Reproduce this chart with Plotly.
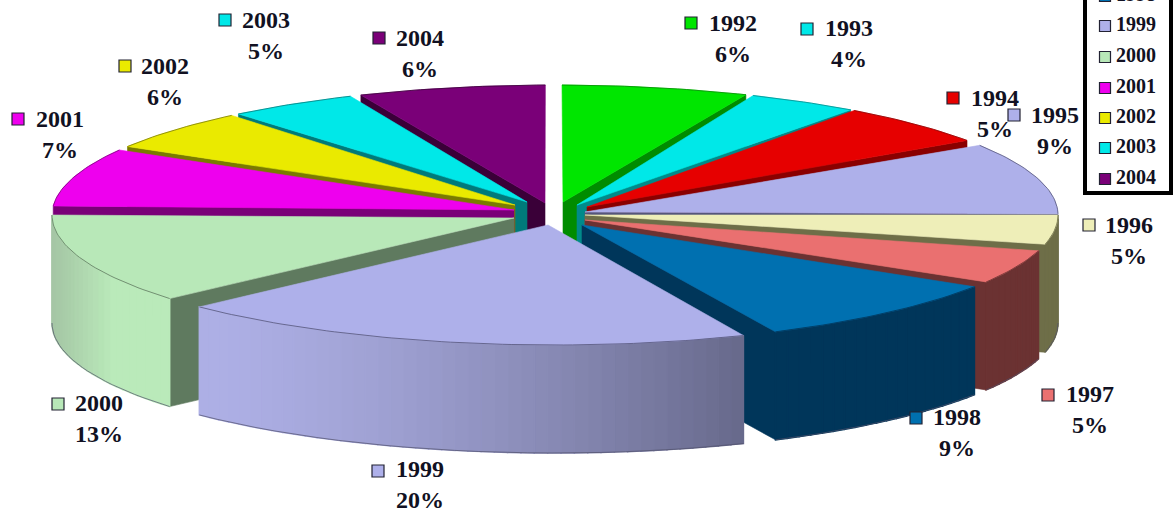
import math
import plotly.graph_objects as go

years = [1992, 1993, 1994, 1995, 1996, 1997, 1998, 1999, 2000, 2001, 2002, 2003, 2004]
shares = [6, 4, 5, 9, 5, 5, 9, 20, 13, 7, 6, 5, 6]
legend_years = [1998, 1999, 2000, 2001, 2002, 2003, 2004]

top_colors = ["#00e600", "#00e8e8", "#e60000", "#aeb0ea", "#eeeeb8", "#ea7070", "#0070b0",
              "#aeb0ea", "#b8e8b8", "#ee00ee", "#eaea00", "#00e8e8", "#7a0078"]
cut_colors = ["#008c00", "#008a8a", "#8a0000", "#55567a", "#6e6e48", "#6b3232", "#00365a",
              "#55567a", "#5f7a5f", "#7a0078", "#7a7a00", "#007a7a", "#3a0038"]

# Drawing geometry (screen units of the fixed axes), not data
CX, CY, RX, RY, DEPTH = 555, 215, 503, 130, 108
start_trim = [0.8, 1.6, 0.5, 3.6, 3.6, 1.6, 1.1, 3.2, 3.2, 0.4, 3.0, 0.6, -1.1]
end_trim = [0.7, 0.0, 1.0, 3.1, -1.4, -1.4, -0.8, -1.8, -3.6, 1.2, -0.4, -2.4, -1.1]
tips = [(563, 202), (577, 205), (587, 207), (585, 212), (585, 215), (585, 220), (582, 225),
        (548, 225), (514, 218), (514, 210), (515, 205), (527, 202), (545, 203)]
label_pos = [(733, 38), (849, 43), (995, 113), (1055, 130), (1129, 240), (1090, 409), (957, 432),
             (420, 484), (99, 418), (60, 134), (165, 81), (266, 35), (420, 53)]
key_pos = [(691, 23), (807, 29), (953, 98), (1014, 115), (1089, 225), (1048, 395), (916, 418),
           (378, 471), (58, 404), (18, 119), (125, 66), (225, 20), (379, 38)]
legend_rows = [-4, 26, 57, 88, 118, 148, 179]


def rim(deg):
    t = math.radians(deg)
    return CX + RX * math.sin(t), CY - RY * math.cos(t)


def poly(fig, pts, color, line=None, width=0.6):
    fig.add_trace(go.Scatter(
        x=[p[0] for p in pts] + [pts[0][0]], y=[p[1] for p in pts] + [pts[0][1]],
        mode="lines", fill="toself", fillcolor=color,
        line=dict(color=line or color, width=width), hoverinfo="skip", showlegend=False))


def mix(a, b, f):
    return "rgb(%d,%d,%d)" % tuple(a[i] + (b[i] - a[i]) * f for i in range(3))


def wall_color(i, deg):
    x = rim(deg)[0]
    if years[i] == 1999:
        return mix((174, 176, 230), (104, 106, 140), max(0, min(1, (x - 202) / 538)) ** 1.4)
    if years[i] == 2000:
        return mix((165, 198, 165), (186, 234, 186), max(0, min(1, (x - 52) / 60)))
    return cut_colors[i]


fig = go.Figure()

edges, run = [], 0.0
for v in shares:
    edges.append((run, run + v * 3.6))
    run += v * 3.6
spans = [(e[0] + s, e[1] + t) for e, s, t in zip(edges, start_trim, end_trim)]


def back_distance(i):
    m = sum(spans[i]) / 2
    return min(m, 360 - m)


for i in sorted(range(len(years)), key=back_distance):
    a0, a1 = spans[i]
    tip = tips[i]
    mid = (a0 + a1) / 2
    # radial cut face that looks towards the viewer
    edge = rim(a1) if mid < 180 else rim(a0)
    if years[i] != 1999:
        poly(fig, [tip, edge, (edge[0], edge[1] + DEPTH), (tip[0], tip[1] + DEPTH)], cut_colors[i])
    # outer face, in narrow strips so the shading can vary
    lo, hi = max(a0, 90), min(a1, 270)
    if hi > lo:
        n = max(2, int((hi - lo) / 1.5))
        for k in range(n):
            d0 = lo + (hi - lo) * k / n
            d1 = lo + (hi - lo) * (k + 1) / n
            p0, p1 = rim(d0), rim(d1)
            poly(fig, [p0, p1, (p1[0], p1[1] + DEPTH), (p0[0], p0[1] + DEPTH)],
                 wall_color(i, (d0 + d1) / 2), width=1.5)
        m = 24
        low = [rim(lo + (hi - lo) * k / m) for k in range(m + 1)]
        fig.add_trace(go.Scatter(x=[p[0] for p in low], y=[p[1] + DEPTH for p in low], mode="lines",
                                 line=dict(color="#50506a", width=0.7), hoverinfo="skip", showlegend=False))
    # top face
    m = max(4, int(a1 - a0))
    arc = [rim(a0 + (a1 - a0) * k / m) for k in range(m + 1)]
    poly(fig, [tip] + arc, top_colors[i])
    fig.add_trace(go.Scatter(x=[p[0] for p in arc], y=[p[1] for p in arc], mode="lines",
                             line=dict(color=cut_colors[i], width=0.8), hoverinfo="skip", showlegend=False))

annotations = []
for y, v, c, lp, kp in zip(years, shares, top_colors, label_pos, key_pos):
    fig.add_trace(go.Scatter(x=[kp[0]], y=[kp[1]], mode="markers", hoverinfo="skip", showlegend=False,
                             marker=dict(symbol="square", size=12, color=c, line=dict(color="#222233", width=1.2))))
    annotations.append(dict(x=lp[0], y=lp[1], xref="x", yref="y", showarrow=False,
                            text=f"<b>{y}<br>{v}%</b>", align="center",
                            font=dict(family="Liberation Serif", size=24, color="#111122")))

# legend panel, cut off by the top of the picture
fig.add_shape(type="rect", xref="x", yref="y", x0=1085, x1=1171, y0=-20, y1=193, layer="below",
              line=dict(color="black", width=4), fillcolor="white")
for y, row in zip(legend_years, legend_rows):
    c = top_colors[years.index(y)]
    fig.add_trace(go.Scatter(x=[1105], y=[row], mode="markers", hoverinfo="skip", showlegend=False,
                             marker=dict(symbol="square", size=11, color=c, line=dict(color="#222233", width=1.2))))
    fig.add_trace(go.Scatter(x=[1136], y=[row], mode="text", text=[f"<b>{y}</b>"], textposition="middle center",
                             hoverinfo="skip", showlegend=False,
                             textfont=dict(family="Liberation Serif", size=20, color="#111122")))

fig.update_layout(
    width=1176, height=510, margin=dict(l=0, r=0, t=0, b=0),
    paper_bgcolor="white", plot_bgcolor="white", showlegend=False, annotations=annotations,
    xaxis=dict(range=[0, 1176], visible=False, fixedrange=True),
    yaxis=dict(range=[510, 0], visible=False, fixedrange=True))
fig.write_html("out.html", config=dict(displayModeBar=False),
               post_script="document.body.style.margin='0';document.documentElement.style.overflow='hidden';")
